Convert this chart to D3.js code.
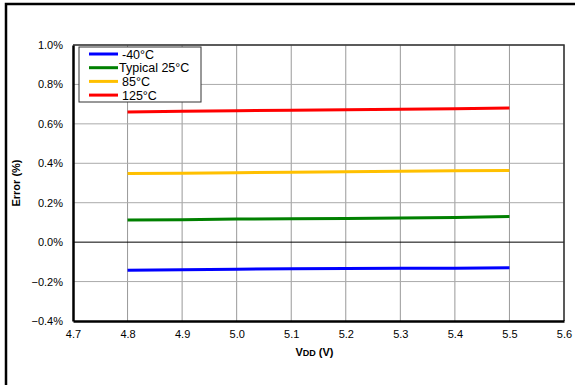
<!DOCTYPE html>
<html>
<head>
<meta charset="utf-8">
<script src="https://cdn.jsdelivr.net/npm/d3@7"></script>
<style>
  body { margin: 0; background: #fff; }
  svg text { font-family: "Liberation Sans", Arial, sans-serif; }
</style>
</head>
<body>
<div id="plot"></div>
<script>
// data
var vdd = [4.8, 4.9, 5.0, 5.1, 5.2, 5.3, 5.4, 5.5];
var errM40 = [-0.142, -0.140, -0.137, -0.135, -0.134, -0.133, -0.132, -0.130];
var err25 = [0.112, 0.114, 0.117, 0.119, 0.120, 0.122, 0.125, 0.130];
var err85 = [0.348, 0.350, 0.352, 0.354, 0.357, 0.360, 0.362, 0.364];
var err125 = [0.660, 0.664, 0.667, 0.669, 0.671, 0.674, 0.677, 0.680];
var seriesNames = ["-40°C", "Typical 25°C", "85°C", "125°C"];
var seriesColors = ["#0000ff", "#008000", "#ffc000", "#ff0000"];
var xTicks = [4.7, 4.8, 4.9, 5.0, 5.1, 5.2, 5.3, 5.4, 5.5, 5.6];
var yTicks = [-0.4, -0.2, 0.0, 0.2, 0.4, 0.6, 0.8, 1.0];

var series = [errM40, err25, err85, err125].map(function(vals, i) {
    return { name: seriesNames[i], color: seriesColors[i],
             values: vals.map(function(v, j) { return { x: vdd[j], y: v }; }) };
});

var W = 575, H = 385;
var margin = { top: 45, right: 11, bottom: 64, left: 73 },
    width = W - margin.left - margin.right,
    height = H - margin.top - margin.bottom;

var root = d3.select("#plot").append("svg")
    .attr("width", W).attr("height", H);

// outer frame
root.append("rect")
    .attr("x", 6).attr("y", 4).attr("width", W).attr("height", H)
    .attr("fill", "none").attr("stroke", "#000").attr("stroke-width", 2.5);

var svg = root.append("g")
    .attr("transform", "translate(" + margin.left + "," + margin.top + ")");

var x = d3.scaleLinear().domain([4.7, 5.6]).range([0, width]);
var y = d3.scaleLinear().domain([-0.4, 1.0]).range([height, 0]);

// grid
svg.append("g").selectAll("line.vg").data(xTicks.slice(1)).enter()
    .append("line")
    .attr("x1", function(d) { return x(d); }).attr("x2", function(d) { return x(d); })
    .attr("y1", 0).attr("y2", height)
    .attr("stroke", "#999").attr("stroke-width", 1);
svg.append("g").selectAll("line.hg").data(yTicks.slice(1)).enter()
    .append("line")
    .attr("x1", 0).attr("x2", width)
    .attr("y1", function(d) { return y(d); }).attr("y2", function(d) { return y(d); })
    .attr("stroke", function(d) { return d === 0 ? "#000" : "#aaa"; })
    .attr("stroke-width", 1);

// top / right border
svg.append("path")
    .attr("d", "M0,0H" + width + "V" + height)
    .attr("fill", "none").attr("stroke", "#333").attr("stroke-width", 1.5);

// axes
var xAxis = svg.append("g")
    .attr("transform", "translate(0," + height + ")")
    .call(d3.axisBottom(x).tickValues(xTicks).tickSize(0).tickPadding(9)
        .tickFormat(d3.format(".1f")));
var yAxis = svg.append("g")
    .call(d3.axisLeft(y).tickValues(yTicks).tickSize(0).tickPadding(10)
        .tickFormat(function(d) { return d3.format(".1f")(d) + "%"; }));
[xAxis, yAxis].forEach(function(a) {
    a.select(".domain").attr("stroke", "#000").attr("stroke-width", 2.5);
    a.selectAll("text").attr("fill", "#000")
        .style("font-size", "11px");
});

// lines
var line = d3.line().x(function(d) { return x(d.x); }).y(function(d) { return y(d.y); });
svg.append("g").selectAll("path.s").data(series).enter()
    .append("path")
    .attr("d", function(d) { return line(d.values); })
    .attr("fill", "none")
    .attr("stroke", function(d) { return d.color; })
    .attr("stroke-width", 3);

// axis labels
var xl = svg.append("text")
    .attr("x", width / 2 - 4).attr("y", height + 35)
    .attr("text-anchor", "middle")
    .style("font-size", "11px").style("font-weight", "bold");
xl.append("tspan").text("V");
xl.append("tspan").style("font-size", "9px").text("DD");
xl.append("tspan").text(" (V)");

svg.append("text")
    .attr("transform", "rotate(-90)")
    .attr("x", -y(0.3)).attr("y", -53)
    .attr("text-anchor", "middle")
    .style("font-size", "11px").style("font-weight", "bold")
    .text("Error (%)");

// legend
var lg = svg.append("g").attr("transform", "translate(6,2)");
lg.append("rect")
    .attr("width", 122).attr("height", 55)
    .attr("fill", "#fff").attr("stroke", "#333").attr("stroke-width", 1);
var item = lg.selectAll("g.it").data(series).enter().append("g")
    .attr("transform", function(d, i) { return "translate(0," + (7 + i * 13.7) + ")"; });
item.append("line")
    .attr("x1", 10).attr("x2", 39).attr("y1", 0).attr("y2", 0)
    .attr("stroke", function(d) { return d.color; }).attr("stroke-width", 3);
item.append("text")
    .attr("x", function(d, i) { return i === 1 ? 40 : 43; }).attr("y", 0)
    .attr("dy", "0.36em")
    .style("font-size", "12.5px")
    .text(function(d) { return d.name; });
</script>
</body>
</html>
